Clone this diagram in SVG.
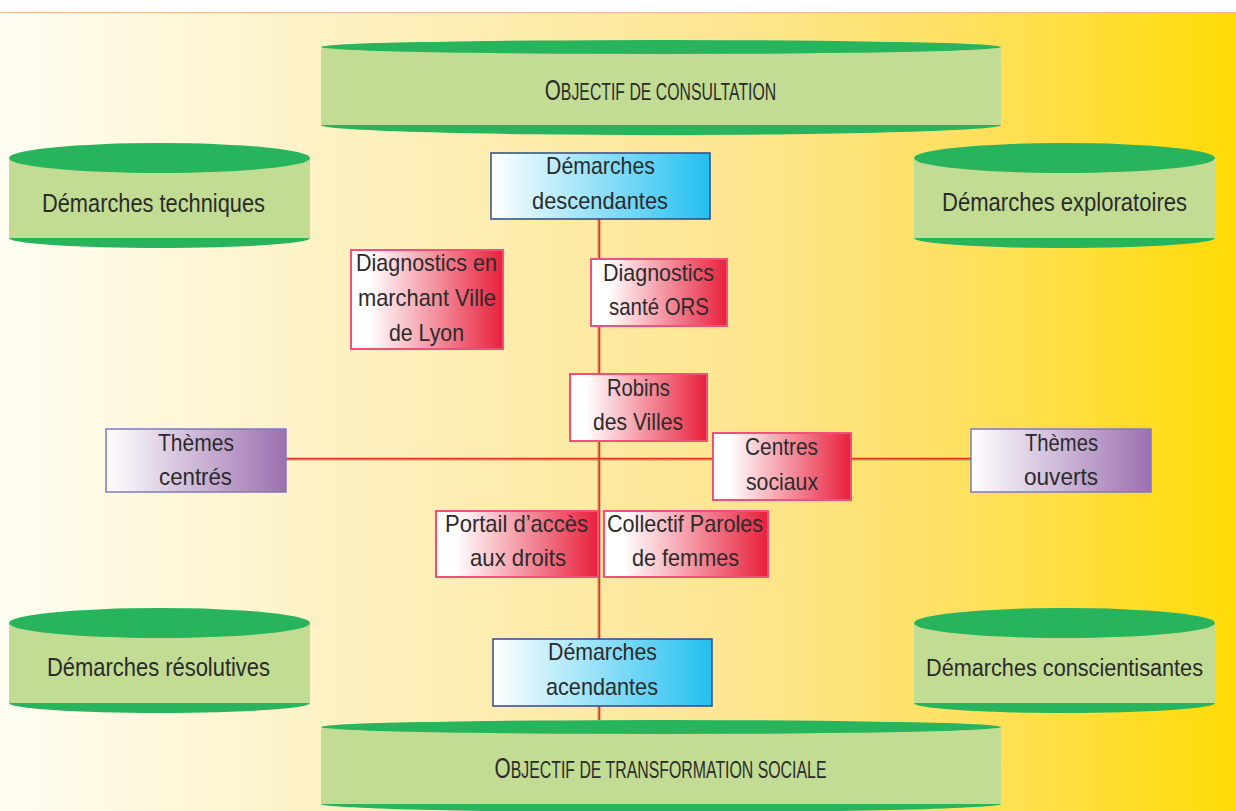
<svg xmlns="http://www.w3.org/2000/svg" width="1236" height="811" viewBox="0 0 1236 811">
<defs>
<linearGradient id="bg" x1="0" y1="0" x2="1" y2="0">
<stop offset="0" stop-color="#fffdf2"/>
<stop offset="0.25" stop-color="#fdf2c6"/>
<stop offset="0.6" stop-color="#fde590"/>
<stop offset="0.8" stop-color="#fee05a"/>
<stop offset="1" stop-color="#ffdb05"/>
</linearGradient>
<linearGradient id="gRed" x1="0" y1="0" x2="1" y2="0">
<stop offset="0" stop-color="#ffffff"/>
<stop offset="0.12" stop-color="#ffffff"/>
<stop offset="1" stop-color="#e8203c"/>
</linearGradient>
<linearGradient id="gBlue" x1="0" y1="0" x2="1" y2="0">
<stop offset="0" stop-color="#ffffff"/>
<stop offset="1" stop-color="#22c0f0"/>
</linearGradient>
<linearGradient id="gPurple" x1="0" y1="0" x2="1" y2="0">
<stop offset="0" stop-color="#ffffff"/>
<stop offset="1" stop-color="#9c70b0"/>
</linearGradient>
</defs>
<style>
.dk{fill:#27b45c}
.lt{fill:#c2dc94}
.t{font-family:"Liberation Sans",Arial,sans-serif;fill:#2b2b2b;text-anchor:middle}
.tc{font-size:26px}
.tb{font-size:24px}
.red{fill:url(#gRed);stroke:#f0507a;stroke-width:2}
.blue{fill:url(#gBlue);stroke:#2b4a8c;stroke-width:1.5}
.pur{fill:url(#gPurple);stroke:#7d78c8;stroke-width:1.5}
.cr{stroke:#e5302a;stroke-width:1.8;fill:none}
.co{stroke:#9a8a3a;stroke-width:0.8;fill:none}
</style>
<rect x="0" y="0" width="1236" height="811" fill="#ffffff"/>
<rect x="0" y="12" width="1236" height="799" fill="url(#bg)"/>
<line x1="0" y1="12.5" x2="1236" y2="12.5" stroke="#f9b89a" stroke-width="1"/>

<g id="connectors">
<line class="co" x1="598" y1="219" x2="598" y2="720"/>
<line class="cr" x1="599.4" y1="219" x2="599.4" y2="720"/>
<line class="co" x1="286" y1="460" x2="971" y2="460"/>
<line class="cr" x1="286" y1="458.6" x2="971" y2="458.6"/>
</g>

<g id="obj-consultation">
<ellipse class="dk" cx="661" cy="125" rx="340" ry="10"/>
<rect class="lt" x="321" y="47" width="680" height="78"/>
<ellipse class="dk" cx="661" cy="47" rx="340" ry="7"/>
<text class="t" transform="translate(660.5,100) scale(0.688,1)" x="0" y="0"><tspan font-size="30">O</tspan><tspan font-size="23">BJECTIF DE CONSULTATION</tspan></text>
</g>

<g id="obj-transformation">
<ellipse class="dk" cx="661" cy="804" rx="340" ry="8"/>
<rect class="lt" x="321" y="727" width="680" height="77"/>
<ellipse class="dk" cx="661" cy="727" rx="340" ry="7"/>
<text class="t" transform="translate(660.5,778) scale(0.69,1)" x="0" y="0"><tspan font-size="30">O</tspan><tspan font-size="23">BJECTIF DE TRANSFORMATION SOCIALE</tspan></text>
</g>

<g id="dem-techniques">
<ellipse class="dk" cx="159.5" cy="238" rx="150.5" ry="10"/>
<rect class="lt" x="9" y="158" width="301" height="80"/>
<ellipse class="dk" cx="159.5" cy="158" rx="150.5" ry="15"/>
<text class="t tc" x="153.5" y="212" textLength="223" lengthAdjust="spacingAndGlyphs">Démarches techniques</text>
</g>

<g id="dem-exploratoires">
<ellipse class="dk" cx="1064.5" cy="238" rx="150.5" ry="10"/>
<rect class="lt" x="914" y="158" width="301" height="80"/>
<ellipse class="dk" cx="1064.5" cy="158" rx="150.5" ry="15"/>
<text class="t tc" x="1064.5" y="211" textLength="245" lengthAdjust="spacingAndGlyphs">Démarches exploratoires</text>
</g>

<g id="dem-resolutives">
<ellipse class="dk" cx="159.5" cy="703" rx="150.5" ry="10"/>
<rect class="lt" x="9" y="623" width="301" height="80"/>
<ellipse class="dk" cx="159.5" cy="623" rx="150.5" ry="15"/>
<text class="t tc" x="158.5" y="676" textLength="223" lengthAdjust="spacingAndGlyphs">Démarches résolutives</text>
</g>

<g id="dem-conscientisantes">
<ellipse class="dk" cx="1064.5" cy="703" rx="150.5" ry="10"/>
<rect class="lt" x="914" y="623" width="301" height="80"/>
<ellipse class="dk" cx="1064.5" cy="623" rx="150.5" ry="15"/>
<text class="t" font-size="23" x="1064.5" y="676" textLength="277" lengthAdjust="spacingAndGlyphs">Démarches conscientisantes</text>
</g>

<g id="dem-descendantes">
<rect class="blue" x="491" y="153" width="219" height="66"/>
<text class="t tb" x="600.5" y="173.5" textLength="109" lengthAdjust="spacingAndGlyphs">Démarches</text>
<text class="t tb" x="600" y="209" textLength="136" lengthAdjust="spacingAndGlyphs">descendantes</text>
</g>

<g id="dem-acendantes">
<rect class="blue" x="493" y="639" width="219" height="67"/>
<text class="t tb" x="602.5" y="660" textLength="109" lengthAdjust="spacingAndGlyphs">Démarches</text>
<text class="t tb" x="602" y="695" textLength="112" lengthAdjust="spacingAndGlyphs">acendantes</text>
</g>

<g id="themes-centres">
<rect class="pur" x="106" y="429" width="180" height="63"/>
<text class="t tb" x="196" y="451" textLength="76" lengthAdjust="spacingAndGlyphs">Thèmes</text>
<text class="t tb" x="195.5" y="485" textLength="73" lengthAdjust="spacingAndGlyphs">centrés</text>
</g>

<g id="themes-ouverts">
<rect class="pur" x="971" y="429" width="180" height="63"/>
<text class="t tb" x="1061.5" y="451" textLength="73" lengthAdjust="spacingAndGlyphs">Thèmes</text>
<text class="t tb" x="1061" y="485" textLength="74" lengthAdjust="spacingAndGlyphs">ouverts</text>
</g>

<g id="diag-marchant">
<rect class="red" x="351" y="250" width="152" height="99"/>
<text class="t tb" x="426.5" y="271" textLength="141" lengthAdjust="spacingAndGlyphs">Diagnostics en</text>
<text class="t tb" x="427" y="306" textLength="138" lengthAdjust="spacingAndGlyphs">marchant Ville</text>
<text class="t tb" x="426.5" y="341" textLength="75" lengthAdjust="spacingAndGlyphs">de Lyon</text>
</g>

<g id="diag-ors">
<rect class="red" x="591" y="259" width="136" height="67"/>
<text class="t tb" x="658.5" y="281" textLength="111" lengthAdjust="spacingAndGlyphs">Diagnostics</text>
<text class="t tb" x="659" y="315" textLength="100" lengthAdjust="spacingAndGlyphs">santé ORS</text>
</g>

<g id="robins">
<rect class="red" x="570" y="374" width="137" height="67"/>
<text class="t tb" x="638.5" y="396" textLength="63" lengthAdjust="spacingAndGlyphs">Robins</text>
<text class="t tb" x="638" y="430" textLength="90" lengthAdjust="spacingAndGlyphs">des Villes</text>
</g>

<g id="centres-sociaux">
<rect class="red" x="713" y="433" width="138" height="67"/>
<text class="t tb" x="781.5" y="455" textLength="73" lengthAdjust="spacingAndGlyphs">Centres</text>
<text class="t tb" x="782" y="490" textLength="72" lengthAdjust="spacingAndGlyphs">sociaux</text>
</g>

<g id="portail">
<rect class="red" x="436" y="511" width="162" height="66"/>
<text class="t tb" x="516.5" y="532" textLength="143" lengthAdjust="spacingAndGlyphs">Portail d’accès</text>
<text class="t tb" x="518" y="566" textLength="96" lengthAdjust="spacingAndGlyphs">aux droits</text>
</g>

<g id="collectif">
<rect class="red" x="604" y="511" width="164" height="66"/>
<text class="t tb" x="685" y="532" textLength="156" lengthAdjust="spacingAndGlyphs">Collectif Paroles</text>
<text class="t tb" x="685.5" y="566" textLength="107" lengthAdjust="spacingAndGlyphs">de femmes</text>
</g>
</svg>
